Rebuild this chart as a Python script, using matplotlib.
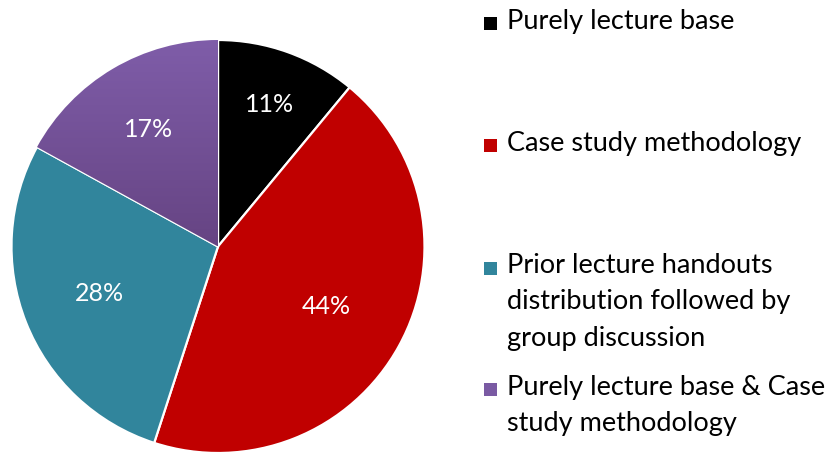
import numpy as np
import matplotlib
matplotlib.use("Agg")
import matplotlib.pyplot as plt
from matplotlib.colors import LinearSegmentedColormap
from matplotlib.patches import Rectangle

# chart data
labels = ["Purely lecture base",
          "Case study methodology",
          "Prior lecture handouts\ndistribution followed by\ngroup discussion",
          "Purely lecture base & Case\nstudy methodology"]
shares = [11, 44, 28, 17]
colors = ["#000000", "#C00000", "#31859C", "#7A5AA3"]

plt.rcParams['font.family'] = ['Lato', 'DejaVu Sans']

W, H = 827, 454
fig = plt.figure(figsize=(W / 100, H / 100), dpi=100)
# pie axes: centre (218, 246) px, radius ~206 px
R = 206.5
cx, cy = 218, H - 246.5
ax = fig.add_axes([(cx - R) / W, (cy - R) / H, 2 * R / W, 2 * R / H])

wedges, _ = ax.pie(shares, colors=colors, startangle=90, counterclock=False,
                   radius=1, wedgeprops=dict(edgecolor="white", linewidth=1.6))
ax.set_aspect("equal")
ax.axis("off")

# purple slice has a vertical gradient
grad = LinearSegmentedColormap.from_list("pur", ["#664483", "#7F5DA9"])
img = ax.imshow(np.linspace(0, 1, 256).reshape(-1, 1), cmap=grad, origin="lower",
                extent=[-1, 0, 0, 1], aspect="auto", zorder=1.5)
img.set_clip_path(wedges[3])
ax.set_xlim(-1, 1)
ax.set_ylim(-1, 1)

# percent labels (Excel best-fit distances)
dists = [0.73, 0.60, 0.62, 0.66]
for w, v, d in zip(wedges, shares, dists):
    ang = np.deg2rad((w.theta1 + w.theta2) / 2)
    ax.text(d * np.cos(ang), d * np.sin(ang), f"{v}%", color="white",
            fontsize=18, ha="center", va="center", zorder=5)

# legend drawn by hand to follow Excel's spacing (first-line centres, px)
first_y = [22, 144, 267, 388]
line_h = 35
for lab, col, y in zip(labels, colors, first_y):
    n = lab.count("\n") + 1
    fig.patches.append(Rectangle((484 / W, (H - y - 1 - 6.5) / H), 13 / W, 13 / H,
                                 transform=fig.transFigure, facecolor=col,
                                 edgecolor="none"))
    yc = y + (n - 1) * line_h / 2
    fig.text(507 / W, (H - yc) / H, lab, fontsize=19.5, ha="left", va="center",
             linespacing=1.56, color="black")

fig.savefig("out.png", dpi=100, facecolor="white")
